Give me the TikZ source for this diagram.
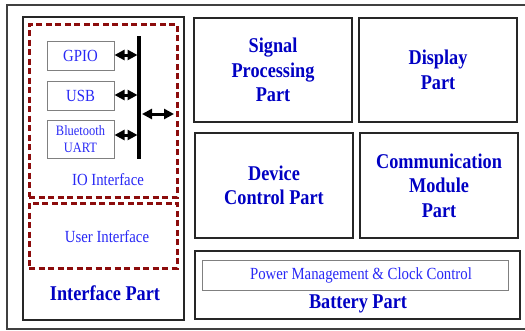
\documentclass[tikz,border=0pt]{standalone}
\usepackage{fontspec}
\setmainfont{Liberation Serif}
\newfontfamily\narrowserif[FakeStretch=0.87]{Liberation Serif}
\usetikzlibrary{arrows.meta}
\definecolor{boldblue}{RGB}{0,0,195}
\definecolor{smallblue}{RGB}{40,40,245}
\definecolor{dashred}{RGB}{140,12,12}
\tikzset{
  partbox/.style={draw=black!85, line width=1.6pt, rectangle, inner sep=0pt, align=center,
    text=boldblue, font=\narrowserif\fontsize{21}{24.5}\selectfont\bfseries},
  subbox/.style={draw=black!50, line width=1pt, rectangle, inner sep=0pt, align=center,
    text=smallblue, font=\narrowserif\fontsize{17}{19}\selectfont},
  dashbox/.style={draw=dashred, line width=3pt, dash pattern=on 6pt off 3.5pt, rectangle, inner sep=0pt},
  smalltext/.style={text=smallblue, font=\narrowserif\fontsize{17}{19}\selectfont, inner sep=0pt},
  boldtext/.style={text=boldblue, font=\narrowserif\fontsize{21}{24.5}\selectfont\bfseries, inner sep=0pt},
  dblarrow/.style={line width=3pt, >={Triangle[length=10pt,width=10pt]}, <->}
}
\begin{document}
\begin{tikzpicture}[x=1pt,y=-1pt]
\useasboundingbox (0,0) rectangle (525,330);
% outer frame
\node[draw=black!75, line width=2pt, rectangle, inner sep=0pt, minimum width=522pt, minimum height=324pt] (frame) at (268,167) {};
% interface part
\node[draw=black!85, line width=1.6pt, rectangle, inner sep=0pt, minimum width=161pt, minimum height=303pt] (iface) at (103.5,168.5) {};
\node[dashbox, minimum width=148pt, minimum height=173pt] (io) at (103,110.5) {};
\node[dashbox, minimum width=148pt, minimum height=65pt] (user) at (103,235.5) {};
\node[smalltext] (iolabel) at (108,180) {IO Interface};
\node[smalltext] (userlabel) at (107,237) {User Interface};
\node[boldtext] (ifacelabel) at (105,293) {Interface Part};
% io boxes
\node[subbox, minimum width=67pt, minimum height=29pt] (gpio) at (80.5,55.5) {GPIO};
\node[subbox, minimum width=67pt, minimum height=29pt] (usb) at (80.5,95.5) {USB};
\node[subbox, minimum width=67pt, minimum height=38pt, font=\narrowserif\fontsize{14.3}{16.5}\selectfont] (bt) at (80.5,139) {Bluetooth\\UART};
% bus
\coordinate (bustop) at (139,36);
\coordinate (busbot) at (139,159);
\draw[line width=3.4pt] (bustop) -- (busbot);
\coordinate (b1) at (137.5,55);
\coordinate (b2) at (137.5,95);
\coordinate (b3) at (137.5,135);
\draw[dblarrow] (gpio.east |- b1) -- (b1);
\draw[dblarrow] (usb.east |- b2) -- (b2);
\draw[dblarrow] (bt.east |- b3) -- (b3);
\coordinate (o1) at (142,114);
\coordinate (o2) at (174,114);
\draw[dblarrow] (o1) -- (o2);
% right parts
\node[partbox, minimum width=158pt, minimum height=104pt] (signal) at (273,70) {Signal\\Processing\\Part};
\node[partbox, minimum width=158pt, minimum height=104pt] (display) at (438,70) {Display\\Part};
\node[partbox, minimum width=158pt, minimum height=105pt] (device) at (274,185.5) {Device\\Control Part};
\node[partbox, minimum width=158pt, minimum height=105pt] (comm) at (439,185.5) {Communication\\Module\\Part};
\node[draw=black!85, line width=1.6pt, rectangle, inner sep=0pt, minimum width=325pt, minimum height=68pt] (battery) at (357.5,285) {};
\node[draw=black!50, line width=1pt, rectangle, inner sep=0pt, minimum width=306pt, minimum height=30pt] (power) at (355,275) {};
\node[smalltext] (powerlabel) at (361,275) {Power Management \& Clock Control};
\node[boldtext] (batterylabel) at (358,304) {Battery Part};
\end{tikzpicture}
\end{document}
